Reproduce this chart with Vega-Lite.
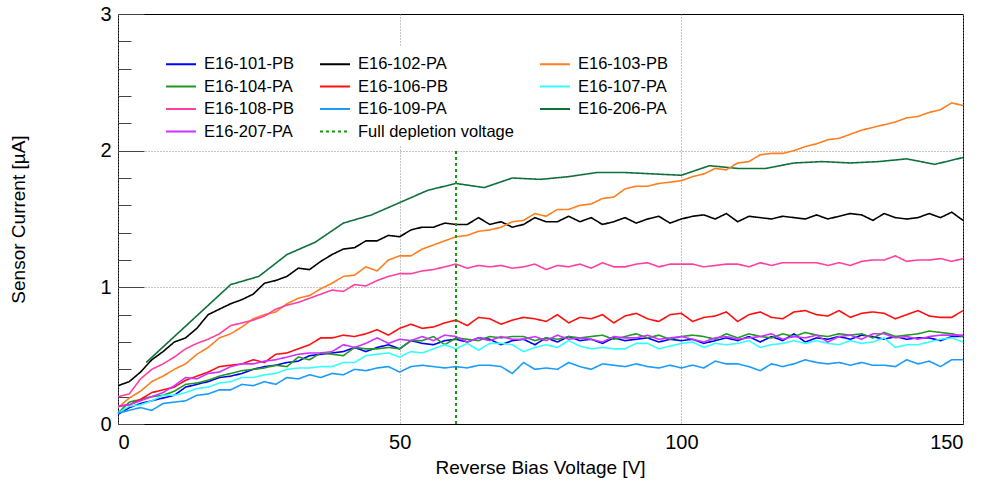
{
  "$schema": "https://vega.github.io/schema/vega-lite/v6.json",
  "width": 845,
  "height": 410,
  "autosize": {"type": "none"},
  "padding": {"left": 118, "top": 14, "right": 20, "bottom": 58},
  "background": "white",
  "config": {
    "view": {"stroke": "#000000", "strokeWidth": 1},
    "font": "Liberation Sans"
  },
  "datasets": {
    "wide": [
      {"v":0,"E16-101-PB":0.07,"E16-102-PA":0.28,"E16-103-PB":0.12,"E16-104-PA":0.08,"E16-106-PB":0.13,"E16-107-PA":0.08,"E16-108-PB":0.20,"E16-109-PA":0.08,"E16-207-PA":0.13},
      {"v":2,"E16-101-PB":0.12,"E16-102-PA":0.31,"E16-103-PB":0.19,"E16-104-PA":0.16,"E16-106-PB":0.14,"E16-107-PA":0.13,"E16-108-PB":0.22,"E16-109-PA":0.10,"E16-207-PA":0.14},
      {"v":4,"E16-101-PB":0.15,"E16-102-PA":0.38,"E16-103-PB":0.24,"E16-104-PA":0.18,"E16-106-PB":0.18,"E16-107-PA":0.14,"E16-108-PB":0.33,"E16-109-PA":0.12,"E16-207-PA":0.17},
      {"v":6,"E16-101-PB":0.17,"E16-102-PA":0.47,"E16-103-PB":0.31,"E16-104-PA":0.20,"E16-106-PB":0.23,"E16-107-PA":0.17,"E16-108-PB":0.40,"E16-109-PA":0.10,"E16-207-PA":0.20},
      {"v":8,"E16-101-PB":0.19,"E16-102-PA":0.53,"E16-103-PB":0.35,"E16-104-PA":0.21,"E16-106-PB":0.25,"E16-107-PA":0.21,"E16-108-PB":0.44,"E16-109-PA":0.15,"E16-207-PA":0.23},
      {"v":10,"E16-101-PB":0.21,"E16-102-PA":0.60,"E16-103-PB":0.40,"E16-104-PA":0.24,"E16-106-PB":0.27,"E16-107-PA":0.21,"E16-108-PB":0.49,"E16-109-PA":0.16,"E16-207-PA":0.28},
      {"v":12,"E16-101-PB":0.27,"E16-102-PA":0.63,"E16-103-PB":0.44,"E16-104-PA":0.29,"E16-106-PB":0.32,"E16-107-PA":0.23,"E16-108-PB":0.55,"E16-109-PA":0.17,"E16-207-PA":0.34},
      {"v":14,"E16-101-PB":0.29,"E16-102-PA":0.70,"E16-103-PB":0.51,"E16-104-PA":0.30,"E16-106-PB":0.35,"E16-107-PA":0.26,"E16-108-PB":0.59,"E16-109-PA":0.21,"E16-207-PA":0.33},
      {"v":16,"E16-101-PB":0.31,"E16-102-PA":0.80,"E16-103-PB":0.56,"E16-104-PA":0.32,"E16-106-PB":0.38,"E16-107-PA":0.27,"E16-108-PB":0.62,"E16-109-PA":0.22,"E16-207-PA":0.37},
      {"v":18,"E16-101-PB":0.34,"E16-102-PA":0.84,"E16-103-PB":0.63,"E16-104-PA":0.35,"E16-106-PB":0.42,"E16-107-PA":0.30,"E16-108-PB":0.66,"E16-109-PA":0.25,"E16-207-PA":0.38},
      {"v":20,"E16-101-PB":0.35,"E16-102-PA":0.88,"E16-103-PB":0.66,"E16-104-PA":0.37,"E16-106-PB":0.43,"E16-107-PA":0.31,"E16-108-PB":0.72,"E16-109-PA":0.25,"E16-207-PA":0.42},
      {"v":22,"E16-101-PB":0.37,"E16-102-PA":0.91,"E16-103-PB":0.71,"E16-104-PA":0.39,"E16-106-PB":0.44,"E16-107-PA":0.34,"E16-108-PB":0.74,"E16-109-PA":0.29,"E16-207-PA":0.44},
      {"v":24,"E16-101-PB":0.40,"E16-102-PA":0.95,"E16-103-PB":0.77,"E16-104-PA":0.40,"E16-106-PB":0.47,"E16-107-PA":0.34,"E16-108-PB":0.76,"E16-109-PA":0.28,"E16-207-PA":0.44},
      {"v":26,"E16-101-PB":0.42,"E16-102-PA":1.03,"E16-103-PB":0.80,"E16-104-PA":0.41,"E16-106-PB":0.45,"E16-107-PA":0.36,"E16-108-PB":0.79,"E16-109-PA":0.31,"E16-207-PA":0.46},
      {"v":28,"E16-101-PB":0.43,"E16-102-PA":1.05,"E16-103-PB":0.82,"E16-104-PA":0.43,"E16-106-PB":0.51,"E16-107-PA":0.37,"E16-108-PB":0.84,"E16-109-PA":0.29,"E16-207-PA":0.47},
      {"v":30,"E16-101-PB":0.45,"E16-102-PA":1.08,"E16-103-PB":0.88,"E16-104-PA":0.42,"E16-106-PB":0.52,"E16-107-PA":0.40,"E16-108-PB":0.87,"E16-109-PA":0.34,"E16-207-PA":0.49},
      {"v":32,"E16-101-PB":0.46,"E16-102-PA":1.14,"E16-103-PB":0.92,"E16-104-PA":0.49,"E16-106-PB":0.55,"E16-107-PA":0.41,"E16-108-PB":0.89,"E16-109-PA":0.33,"E16-207-PA":0.51},
      {"v":34,"E16-101-PB":0.50,"E16-102-PA":1.13,"E16-103-PB":0.94,"E16-104-PA":0.47,"E16-106-PB":0.58,"E16-107-PA":0.41,"E16-108-PB":0.92,"E16-109-PA":0.36,"E16-207-PA":0.52},
      {"v":36,"E16-101-PB":0.51,"E16-102-PA":1.19,"E16-103-PB":0.99,"E16-104-PA":0.52,"E16-106-PB":0.63,"E16-107-PA":0.42,"E16-108-PB":0.95,"E16-109-PA":0.34,"E16-207-PA":0.52},
      {"v":38,"E16-101-PB":0.52,"E16-102-PA":1.24,"E16-103-PB":1.03,"E16-104-PA":0.51,"E16-106-PB":0.63,"E16-107-PA":0.42,"E16-108-PB":0.98,"E16-109-PA":0.37,"E16-207-PA":0.53},
      {"v":40,"E16-101-PB":0.53,"E16-102-PA":1.28,"E16-103-PB":1.08,"E16-104-PA":0.50,"E16-106-PB":0.65,"E16-107-PA":0.45,"E16-108-PB":0.97,"E16-109-PA":0.36,"E16-207-PA":0.58},
      {"v":42,"E16-101-PB":0.56,"E16-102-PA":1.29,"E16-103-PB":1.09,"E16-104-PA":0.56,"E16-106-PB":0.64,"E16-107-PA":0.45,"E16-108-PB":1.02,"E16-109-PA":0.40,"E16-207-PA":0.56},
      {"v":44,"E16-101-PB":0.53,"E16-102-PA":1.34,"E16-103-PB":1.15,"E16-104-PA":0.55,"E16-106-PB":0.66,"E16-107-PA":0.50,"E16-108-PB":1.01,"E16-109-PA":0.39,"E16-207-PA":0.59},
      {"v":46,"E16-101-PB":0.56,"E16-102-PA":1.34,"E16-103-PB":1.12,"E16-104-PA":0.55,"E16-106-PB":0.69,"E16-107-PA":0.51,"E16-108-PB":1.05,"E16-109-PA":0.41,"E16-207-PA":0.63},
      {"v":48,"E16-101-PB":0.58,"E16-102-PA":1.38,"E16-103-PB":1.20,"E16-104-PA":0.56,"E16-106-PB":0.65,"E16-107-PA":0.52,"E16-108-PB":1.08,"E16-109-PA":0.42,"E16-207-PA":0.59},
      {"v":50,"E16-101-PB":0.55,"E16-102-PA":1.37,"E16-103-PB":1.23,"E16-104-PA":0.55,"E16-106-PB":0.70,"E16-107-PA":0.49,"E16-108-PB":1.10,"E16-109-PA":0.38,"E16-207-PA":0.62},
      {"v":52,"E16-101-PB":0.61,"E16-102-PA":1.42,"E16-103-PB":1.23,"E16-104-PA":0.61,"E16-106-PB":0.73,"E16-107-PA":0.53,"E16-108-PB":1.10,"E16-109-PA":0.42,"E16-207-PA":0.61},
      {"v":54,"E16-101-PB":0.59,"E16-102-PA":1.44,"E16-103-PB":1.28,"E16-104-PA":0.61,"E16-106-PB":0.70,"E16-107-PA":0.52,"E16-108-PB":1.12,"E16-109-PA":0.43,"E16-207-PA":0.64},
      {"v":56,"E16-101-PB":0.58,"E16-102-PA":1.44,"E16-103-PB":1.31,"E16-104-PA":0.64,"E16-106-PB":0.71,"E16-107-PA":0.55,"E16-108-PB":1.13,"E16-109-PA":0.42,"E16-207-PA":0.61},
      {"v":58,"E16-101-PB":0.61,"E16-102-PA":1.47,"E16-103-PB":1.34,"E16-104-PA":0.58,"E16-106-PB":0.74,"E16-107-PA":0.58,"E16-108-PB":1.15,"E16-109-PA":0.41,"E16-207-PA":0.65},
      {"v":60,"E16-101-PB":0.62,"E16-102-PA":1.46,"E16-103-PB":1.37,"E16-104-PA":0.63,"E16-106-PB":0.76,"E16-107-PA":0.55,"E16-108-PB":1.17,"E16-109-PA":0.42,"E16-207-PA":0.64},
      {"v":62,"E16-101-PB":0.60,"E16-102-PA":1.46,"E16-103-PB":1.38,"E16-104-PA":0.62,"E16-106-PB":0.72,"E16-107-PA":0.59,"E16-108-PB":1.14,"E16-109-PA":0.41,"E16-207-PA":0.60},
      {"v":64,"E16-101-PB":0.63,"E16-102-PA":1.51,"E16-103-PB":1.41,"E16-104-PA":0.61,"E16-106-PB":0.78,"E16-107-PA":0.54,"E16-108-PB":1.16,"E16-109-PA":0.43,"E16-207-PA":0.63},
      {"v":66,"E16-101-PB":0.62,"E16-102-PA":1.46,"E16-103-PB":1.42,"E16-104-PA":0.64,"E16-106-PB":0.77,"E16-107-PA":0.59,"E16-108-PB":1.15,"E16-109-PA":0.43,"E16-207-PA":0.61},
      {"v":68,"E16-101-PB":0.58,"E16-102-PA":1.48,"E16-103-PB":1.44,"E16-104-PA":0.63,"E16-106-PB":0.73,"E16-107-PA":0.59,"E16-108-PB":1.16,"E16-109-PA":0.42,"E16-207-PA":0.64},
      {"v":70,"E16-101-PB":0.61,"E16-102-PA":1.44,"E16-103-PB":1.48,"E16-104-PA":0.64,"E16-106-PB":0.76,"E16-107-PA":0.58,"E16-108-PB":1.14,"E16-109-PA":0.37,"E16-207-PA":0.62},
      {"v":72,"E16-101-PB":0.62,"E16-102-PA":1.46,"E16-103-PB":1.49,"E16-104-PA":0.64,"E16-106-PB":0.78,"E16-107-PA":0.53,"E16-108-PB":1.15,"E16-109-PA":0.45,"E16-207-PA":0.62},
      {"v":74,"E16-101-PB":0.58,"E16-102-PA":1.51,"E16-103-PB":1.54,"E16-104-PA":0.61,"E16-106-PB":0.77,"E16-107-PA":0.56,"E16-108-PB":1.17,"E16-109-PA":0.40,"E16-207-PA":0.64},
      {"v":76,"E16-101-PB":0.63,"E16-102-PA":1.48,"E16-103-PB":1.52,"E16-104-PA":0.63,"E16-106-PB":0.75,"E16-107-PA":0.58,"E16-108-PB":1.13,"E16-109-PA":0.41,"E16-207-PA":0.61},
      {"v":78,"E16-101-PB":0.60,"E16-102-PA":1.48,"E16-103-PB":1.57,"E16-104-PA":0.62,"E16-106-PB":0.80,"E16-107-PA":0.56,"E16-108-PB":1.16,"E16-109-PA":0.40,"E16-207-PA":0.65},
      {"v":80,"E16-101-PB":0.64,"E16-102-PA":1.52,"E16-103-PB":1.57,"E16-104-PA":0.64,"E16-106-PB":0.74,"E16-107-PA":0.61,"E16-108-PB":1.15,"E16-109-PA":0.45,"E16-207-PA":0.62},
      {"v":82,"E16-101-PB":0.61,"E16-102-PA":1.48,"E16-103-PB":1.60,"E16-104-PA":0.63,"E16-106-PB":0.78,"E16-107-PA":0.57,"E16-108-PB":1.17,"E16-109-PA":0.42,"E16-207-PA":0.63},
      {"v":84,"E16-101-PB":0.62,"E16-102-PA":1.51,"E16-103-PB":1.61,"E16-104-PA":0.64,"E16-106-PB":0.77,"E16-107-PA":0.55,"E16-108-PB":1.14,"E16-109-PA":0.40,"E16-207-PA":0.62},
      {"v":86,"E16-101-PB":0.59,"E16-102-PA":1.46,"E16-103-PB":1.65,"E16-104-PA":0.65,"E16-106-PB":0.80,"E16-107-PA":0.56,"E16-108-PB":1.18,"E16-109-PA":0.44,"E16-207-PA":0.60},
      {"v":88,"E16-101-PB":0.63,"E16-102-PA":1.48,"E16-103-PB":1.66,"E16-104-PA":0.62,"E16-106-PB":0.74,"E16-107-PA":0.55,"E16-108-PB":1.15,"E16-109-PA":0.43,"E16-207-PA":0.64},
      {"v":90,"E16-101-PB":0.61,"E16-102-PA":1.51,"E16-103-PB":1.72,"E16-104-PA":0.64,"E16-106-PB":0.79,"E16-107-PA":0.55,"E16-108-PB":1.15,"E16-109-PA":0.42,"E16-207-PA":0.63},
      {"v":92,"E16-101-PB":0.62,"E16-102-PA":1.47,"E16-103-PB":1.74,"E16-104-PA":0.66,"E16-106-PB":0.81,"E16-107-PA":0.59,"E16-108-PB":1.17,"E16-109-PA":0.44,"E16-207-PA":0.63},
      {"v":94,"E16-101-PB":0.63,"E16-102-PA":1.50,"E16-103-PB":1.74,"E16-104-PA":0.63,"E16-106-PB":0.77,"E16-107-PA":0.59,"E16-108-PB":1.18,"E16-109-PA":0.42,"E16-207-PA":0.65},
      {"v":96,"E16-101-PB":0.60,"E16-102-PA":1.52,"E16-103-PB":1.76,"E16-104-PA":0.65,"E16-106-PB":0.75,"E16-107-PA":0.55,"E16-108-PB":1.15,"E16-109-PA":0.41,"E16-207-PA":0.62},
      {"v":98,"E16-101-PB":0.62,"E16-102-PA":1.47,"E16-103-PB":1.77,"E16-104-PA":0.62,"E16-106-PB":0.80,"E16-107-PA":0.57,"E16-108-PB":1.17,"E16-109-PA":0.43,"E16-207-PA":0.63},
      {"v":100,"E16-101-PB":0.61,"E16-102-PA":1.50,"E16-103-PB":1.78,"E16-104-PA":0.64,"E16-106-PB":0.81,"E16-107-PA":0.59,"E16-108-PB":1.17,"E16-109-PA":0.41,"E16-207-PA":0.64},
      {"v":102,"E16-101-PB":0.62,"E16-102-PA":1.52,"E16-103-PB":1.81,"E16-104-PA":0.65,"E16-106-PB":0.75,"E16-107-PA":0.60,"E16-108-PB":1.17,"E16-109-PA":0.43,"E16-207-PA":0.62},
      {"v":104,"E16-101-PB":0.59,"E16-102-PA":1.53,"E16-103-PB":1.83,"E16-104-PA":0.64,"E16-106-PB":0.78,"E16-107-PA":0.56,"E16-108-PB":1.15,"E16-109-PA":0.41,"E16-207-PA":0.60},
      {"v":106,"E16-101-PB":0.61,"E16-102-PA":1.50,"E16-103-PB":1.87,"E16-104-PA":0.62,"E16-106-PB":0.79,"E16-107-PA":0.59,"E16-108-PB":1.16,"E16-109-PA":0.46,"E16-207-PA":0.63},
      {"v":108,"E16-101-PB":0.63,"E16-102-PA":1.54,"E16-103-PB":1.86,"E16-104-PA":0.66,"E16-106-PB":0.82,"E16-107-PA":0.58,"E16-108-PB":1.17,"E16-109-PA":0.44,"E16-207-PA":0.64},
      {"v":110,"E16-101-PB":0.61,"E16-102-PA":1.48,"E16-103-PB":1.91,"E16-104-PA":0.63,"E16-106-PB":0.75,"E16-107-PA":0.59,"E16-108-PB":1.17,"E16-109-PA":0.44,"E16-207-PA":0.62},
      {"v":112,"E16-101-PB":0.64,"E16-102-PA":1.52,"E16-103-PB":1.92,"E16-104-PA":0.66,"E16-106-PB":0.80,"E16-107-PA":0.61,"E16-108-PB":1.15,"E16-109-PA":0.42,"E16-207-PA":0.63},
      {"v":114,"E16-101-PB":0.60,"E16-102-PA":1.51,"E16-103-PB":1.97,"E16-104-PA":0.64,"E16-106-PB":0.82,"E16-107-PA":0.56,"E16-108-PB":1.18,"E16-109-PA":0.39,"E16-207-PA":0.64},
      {"v":116,"E16-101-PB":0.64,"E16-102-PA":1.50,"E16-103-PB":1.98,"E16-104-PA":0.63,"E16-106-PB":0.78,"E16-107-PA":0.58,"E16-108-PB":1.16,"E16-109-PA":0.44,"E16-207-PA":0.66},
      {"v":118,"E16-101-PB":0.61,"E16-102-PA":1.52,"E16-103-PB":1.98,"E16-104-PA":0.66,"E16-106-PB":0.77,"E16-107-PA":0.59,"E16-108-PB":1.18,"E16-109-PA":0.42,"E16-207-PA":0.62},
      {"v":120,"E16-101-PB":0.66,"E16-102-PA":1.51,"E16-103-PB":2.00,"E16-104-PA":0.64,"E16-106-PB":0.82,"E16-107-PA":0.61,"E16-108-PB":1.18,"E16-109-PA":0.44,"E16-207-PA":0.64},
      {"v":122,"E16-101-PB":0.60,"E16-102-PA":1.50,"E16-103-PB":2.03,"E16-104-PA":0.67,"E16-106-PB":0.83,"E16-107-PA":0.59,"E16-108-PB":1.18,"E16-109-PA":0.47,"E16-207-PA":0.63},
      {"v":124,"E16-101-PB":0.63,"E16-102-PA":1.53,"E16-103-PB":2.05,"E16-104-PA":0.65,"E16-106-PB":0.80,"E16-107-PA":0.61,"E16-108-PB":1.18,"E16-109-PA":0.45,"E16-207-PA":0.65},
      {"v":126,"E16-101-PB":0.62,"E16-102-PA":1.50,"E16-103-PB":2.08,"E16-104-PA":0.64,"E16-106-PB":0.79,"E16-107-PA":0.59,"E16-108-PB":1.16,"E16-109-PA":0.44,"E16-207-PA":0.60},
      {"v":128,"E16-101-PB":0.64,"E16-102-PA":1.52,"E16-103-PB":2.09,"E16-104-PA":0.66,"E16-106-PB":0.83,"E16-107-PA":0.58,"E16-108-PB":1.18,"E16-109-PA":0.45,"E16-207-PA":0.64},
      {"v":130,"E16-101-PB":0.62,"E16-102-PA":1.54,"E16-103-PB":2.12,"E16-104-PA":0.65,"E16-106-PB":0.78,"E16-107-PA":0.61,"E16-108-PB":1.16,"E16-109-PA":0.43,"E16-207-PA":0.65},
      {"v":132,"E16-101-PB":0.65,"E16-102-PA":1.53,"E16-103-PB":2.15,"E16-104-PA":0.66,"E16-106-PB":0.81,"E16-107-PA":0.59,"E16-108-PB":1.19,"E16-109-PA":0.45,"E16-207-PA":0.62},
      {"v":134,"E16-101-PB":0.64,"E16-102-PA":1.49,"E16-103-PB":2.17,"E16-104-PA":0.63,"E16-106-PB":0.82,"E16-107-PA":0.60,"E16-108-PB":1.20,"E16-109-PA":0.43,"E16-207-PA":0.66},
      {"v":136,"E16-101-PB":0.62,"E16-102-PA":1.54,"E16-103-PB":2.19,"E16-104-PA":0.67,"E16-106-PB":0.81,"E16-107-PA":0.63,"E16-108-PB":1.20,"E16-109-PA":0.43,"E16-207-PA":0.66},
      {"v":138,"E16-101-PB":0.64,"E16-102-PA":1.51,"E16-103-PB":2.21,"E16-104-PA":0.64,"E16-106-PB":0.77,"E16-107-PA":0.56,"E16-108-PB":1.23,"E16-109-PA":0.42,"E16-207-PA":0.63},
      {"v":140,"E16-101-PB":0.62,"E16-102-PA":1.50,"E16-103-PB":2.24,"E16-104-PA":0.65,"E16-106-PB":0.80,"E16-107-PA":0.58,"E16-108-PB":1.19,"E16-109-PA":0.47,"E16-207-PA":0.64},
      {"v":142,"E16-101-PB":0.63,"E16-102-PA":1.51,"E16-103-PB":2.25,"E16-104-PA":0.66,"E16-106-PB":0.83,"E16-107-PA":0.58,"E16-108-PB":1.20,"E16-109-PA":0.44,"E16-207-PA":0.62},
      {"v":144,"E16-101-PB":0.63,"E16-102-PA":1.54,"E16-103-PB":2.28,"E16-104-PA":0.68,"E16-106-PB":0.79,"E16-107-PA":0.60,"E16-108-PB":1.20,"E16-109-PA":0.46,"E16-207-PA":0.64},
      {"v":146,"E16-101-PB":0.61,"E16-102-PA":1.51,"E16-103-PB":2.30,"E16-104-PA":0.67,"E16-106-PB":0.78,"E16-107-PA":0.62,"E16-108-PB":1.21,"E16-109-PA":0.42,"E16-207-PA":0.65},
      {"v":148,"E16-101-PB":0.64,"E16-102-PA":1.55,"E16-103-PB":2.35,"E16-104-PA":0.66,"E16-106-PB":0.78,"E16-107-PA":0.63,"E16-108-PB":1.19,"E16-109-PA":0.47,"E16-207-PA":0.65},
      {"v":150,"E16-101-PB":0.64,"E16-102-PA":1.49,"E16-103-PB":2.33,"E16-104-PA":0.64,"E16-106-PB":0.83,"E16-107-PA":0.60,"E16-108-PB":1.21,"E16-109-PA":0.47,"E16-207-PA":0.65}
    ],
    "g206": [
      {"s":"E16-206-PA","v":5,"i":0.45},{"s":"E16-206-PA","v":10,"i":0.64},{"s":"E16-206-PA","v":15,"i":0.83},
      {"s":"E16-206-PA","v":20,"i":1.02},{"s":"E16-206-PA","v":25,"i":1.08},{"s":"E16-206-PA","v":30,"i":1.24},
      {"s":"E16-206-PA","v":35,"i":1.33},{"s":"E16-206-PA","v":40,"i":1.47},{"s":"E16-206-PA","v":45,"i":1.53},
      {"s":"E16-206-PA","v":50,"i":1.62},{"s":"E16-206-PA","v":55,"i":1.71},{"s":"E16-206-PA","v":60,"i":1.76},
      {"s":"E16-206-PA","v":65,"i":1.73},{"s":"E16-206-PA","v":70,"i":1.80},{"s":"E16-206-PA","v":75,"i":1.79},
      {"s":"E16-206-PA","v":80,"i":1.81},{"s":"E16-206-PA","v":85,"i":1.84},{"s":"E16-206-PA","v":90,"i":1.84},
      {"s":"E16-206-PA","v":95,"i":1.83},{"s":"E16-206-PA","v":100,"i":1.82},{"s":"E16-206-PA","v":105,"i":1.89},
      {"s":"E16-206-PA","v":110,"i":1.87},{"s":"E16-206-PA","v":115,"i":1.87},{"s":"E16-206-PA","v":120,"i":1.91},
      {"s":"E16-206-PA","v":125,"i":1.92},{"s":"E16-206-PA","v":130,"i":1.91},{"s":"E16-206-PA","v":135,"i":1.92},
      {"s":"E16-206-PA","v":140,"i":1.94},{"s":"E16-206-PA","v":145,"i":1.90},{"s":"E16-206-PA","v":150,"i":1.95}
    ],
    "dep": [
      {"s":"Full depletion voltage","v":60,"i0":0,"i1":2}
    ]
  },
  "layer": [
    {
      "data": {"name": "g206"},
      "mark": {"type": "line", "strokeWidth": 1.6},
      "encoding": {
        "x": {"field": "v", "type": "quantitative", "scale": {"domain": [0, 150], "nice": false},
          "axis": {"values": [0, 50, 100, 150], "tickCount": 100, "grid": true, "gridDash": [1, 2], "gridColor": "#888888", "ticks": false, "domain": false,
            "labelFontSize": 20, "labelPadding": 8, "labelColor": "#000", "labelFont": "Liberation Sans", "labelOverlap": false,
            "title": "Reverse Bias Voltage [V]", "titleFontSize": 19, "titleFontWeight": "normal", "titleColor": "#000",
            "titleX": 422, "titleY": 43, "titleBaseline": "middle", "titleAnchor": null}},
        "y": {"field": "i", "type": "quantitative", "scale": {"domain": [0, 3], "nice": false},
          "axis": {"values": [0,0.2,0.4,0.6,0.8,1,1.2,1.4,1.6,1.8,2,2.2,2.4,2.6,2.8,3],
            "tickCount": 100,
            "labelExpr": "datum.value % 1 === 0 ? format(datum.value, 'd') : ''",
            "labelOverlap": false, "labelBound": false, "labelFlush": false,
            "tickSize": {"condition": {"test": "datum.value % 1 === 0", "value": -26}, "value": -13},
            "tickColor": "#444444",
            "grid": true, "gridDash": [1, 2], "gridColor": "#888888",
            "gridOpacity": {"condition": {"test": "datum.value === 1 || datum.value === 2", "value": 1}, "value": 0},
            "domain": false, "labelFontSize": 20, "labelPadding": 33, "labelColor": "#000", "labelFont": "Liberation Sans",
            "title": "Sensor Current [µA]", "titleFontSize": 19, "titleFontWeight": "normal", "titleColor": "#000",
            "titleX": -100, "titleY": 205, "titleBaseline": "middle", "titleAngle": 270}},
        "color": {"field": "s", "type": "nominal",
          "scale": {"domain": ["E16-101-PB","E16-104-PA","E16-108-PB","E16-207-PA","E16-102-PA","E16-106-PB","E16-109-PA","Full depletion voltage","E16-103-PB","E16-107-PA","E16-206-PA"],
            "range": ["#0000ff","#229922","#ff40a0","#cc33ff","#000000","#ff1010","#1a9cff","#119911","#ff7f20","#33ffff","#10703c"]},
          "legend": {"orient": "none", "legendX": 46, "legendY": 33, "columns": 3, "title": null,
            "symbolType": "M-1.5,0H1.5", "symbolSize": 400, "symbolStrokeWidth": 2,
            "labelFontSize": 16.5, "labelFont": "Liberation Sans", "labelColor": "#000", "labelOffset": 12,
            "rowPadding": 2.5, "columnPadding": 22, "fillColor": "white", "padding": 6, "gridAlign": "each"}},
        "strokeDash": {"field": "s", "type": "nominal",
          "scale": {"domain": ["E16-101-PB","E16-104-PA","E16-108-PB","E16-207-PA","E16-102-PA","E16-106-PB","E16-109-PA","Full depletion voltage","E16-103-PB","E16-107-PA","E16-206-PA"],
            "range": [[1,0],[1,0],[1,0],[1,0],[1,0],[1,0],[1,0],[3,3],[1,0],[1,0],[1,0]]},
          "legend": null}
      }
    },
    {
      "data": {"name": "wide"},
      "transform": [{"fold": ["E16-101-PB","E16-102-PA","E16-103-PB","E16-104-PA","E16-106-PB","E16-107-PA","E16-108-PB","E16-109-PA","E16-207-PA"], "as": ["s", "i"]}],
      "mark": {"type": "line", "strokeWidth": 1.6},
      "encoding": {
        "x": {"field": "v", "type": "quantitative"},
        "y": {"field": "i", "type": "quantitative"},
        "color": {"field": "s", "type": "nominal"},
        "strokeDash": {"field": "s", "type": "nominal"}
      }
    },
    {
      "data": {"name": "dep"},
      "mark": {"type": "rule", "strokeWidth": 2},
      "encoding": {
        "x": {"field": "v", "type": "quantitative"},
        "y": {"field": "i0", "type": "quantitative"},
        "y2": {"field": "i1"},
        "color": {"field": "s", "type": "nominal"},
        "strokeDash": {"field": "s", "type": "nominal"}
      }
    }
  ]
}
